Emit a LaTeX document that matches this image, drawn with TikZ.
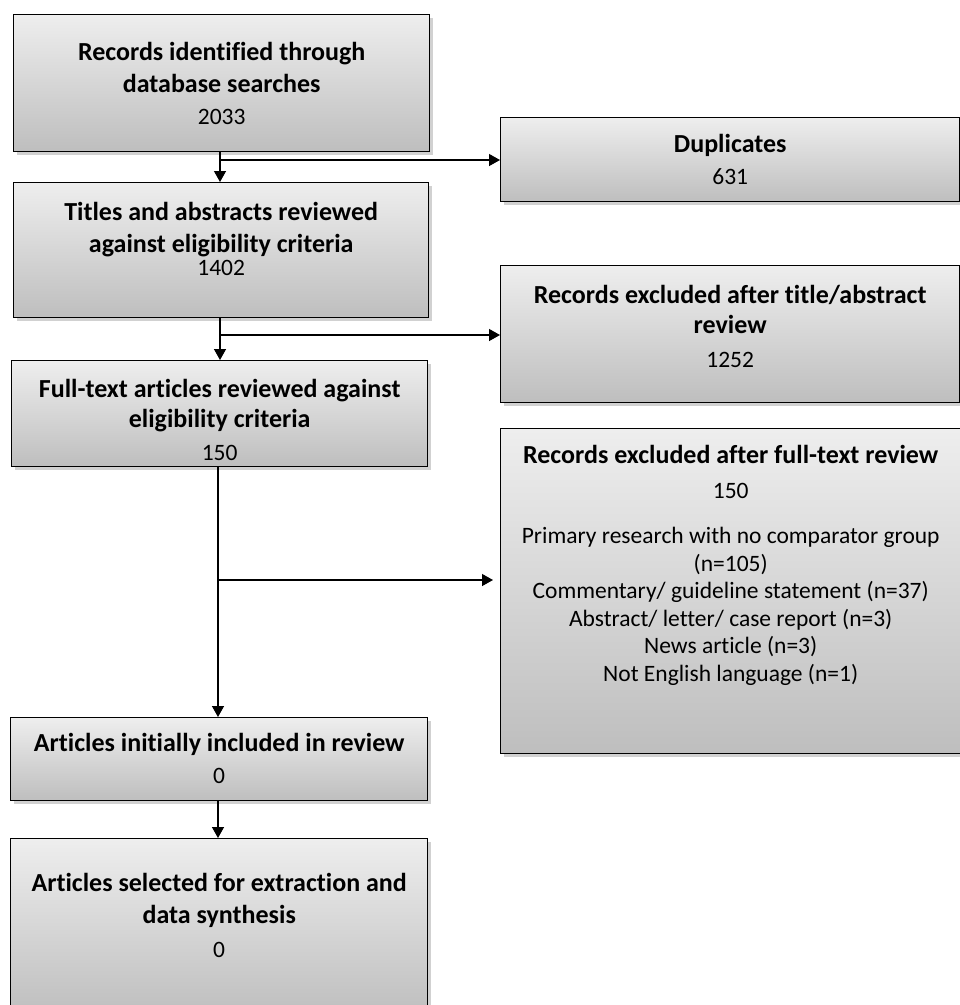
\documentclass[tikz,border=0pt]{standalone}
\usepackage{fontspec}
\setmainfont{Carlito}[Ligatures={NoCommon}]
\usetikzlibrary{shadows,arrows.meta}
\definecolor{boxtop}{RGB}{238,238,238}
\definecolor{boxbot}{RGB}{190,190,190}
\newcommand\bt[1]{{\fontsize{26}{32}\selectfont\bfseries #1}}
\newcommand\bx[4]{\parbox[c][#2][t]{#1}{\centering\vspace*{#3}#4}}
\tikzset{
  box/.style={draw=black, line width=1.4pt, top color=boxtop, bottom color=boxbot,
    drop shadow={shadow xshift=3pt, shadow yshift=-3pt, opacity=0.3, fill=black!60},
    inner sep=0pt, anchor=north west, font=\fontsize{23.5}{32}\selectfont},
  flow/.style={draw=black, line width=1.3pt, -{Triangle[width=12pt,length=11pt]}}
}
\begin{document}
\begin{tikzpicture}[x=1pt,y=-1pt]
\useasboundingbox (0,0) rectangle (960,1005);
% left column
\node[box] (b1) at (13,14)
  {\bx{416pt}{137pt}{28pt}{\bt{Records identified through}\\\bt{database searches}\\2033}};
\node[box] (b2) at (13,182)
  {\bx{415pt}{135pt}{20pt}{\bt{Titles and abstracts reviewed}\\\bt{against eligibility criteria}\\[-9pt]1402}};
\node[box] (b3) at (11,360)
  {\bx{416pt}{106pt}{19pt}{\bt{Full-text articles reviewed against}\\[-2pt]\bt{eligibility criteria}\\[1pt]150}};
\node[box] (b4) at (10,717)
  {\bx{417pt}{83pt}{16pt}{\bt{Articles initially included in review}\\0}};
\node[box] (b5) at (10,838)
  {\bx{417pt}{178pt}{35pt}{\bt{Articles selected for extraction and}\\\bt{data synthesis}\\[2pt]0}};
% right column
\node[box] (dup) at (500,117)
  {\bx{459pt}{84pt}{17pt}{\bt{Duplicates}\\631}};
\node[box] (ta) at (500,265)
  {\bx{459pt}{137pt}{20pt}{\bt{Records excluded after title/abstract}\\[-2pt]\bt{review}\\[2pt]1252}};
\node[box] (ft) at (500,428)
  {\bx{460pt}{325pt}{17pt}{%
   \bt{Records excluded after full-text review}\\[3pt]
   150\\[17pt]
   \fontsize{23.5}{27.6}\selectfont
   Primary research with no comparator group\\
   (n=105)\\
   Commentary/ guideline statement (n=37)\\
   Abstract/ letter/ case report (n=3)\\
   News article (n=3)\\
   Not English language (n=1)}};
% connectors
\coordinate (j1) at (220,160);
\coordinate (j2) at (220,335);
\coordinate (j3) at (218,580);
\draw[flow] (b1.south -| j1) -- (b2.north -| j1);
\draw[flow] (j1) -- (j1 -| dup.west);
\draw[flow] (b2.south -| j2) -- (b3.north -| j2);
\draw[flow] (j2) -- (j2 -| ta.west);
\draw[flow] (b3.south -| j3) -- (b4.north -| j3);
\draw[flow, shorten >=7pt] (j3) -- (j3 -| ft.west);
\draw[flow] (b4.south -| j3) -- (b5.north -| j3);
\end{tikzpicture}
\end{document}
